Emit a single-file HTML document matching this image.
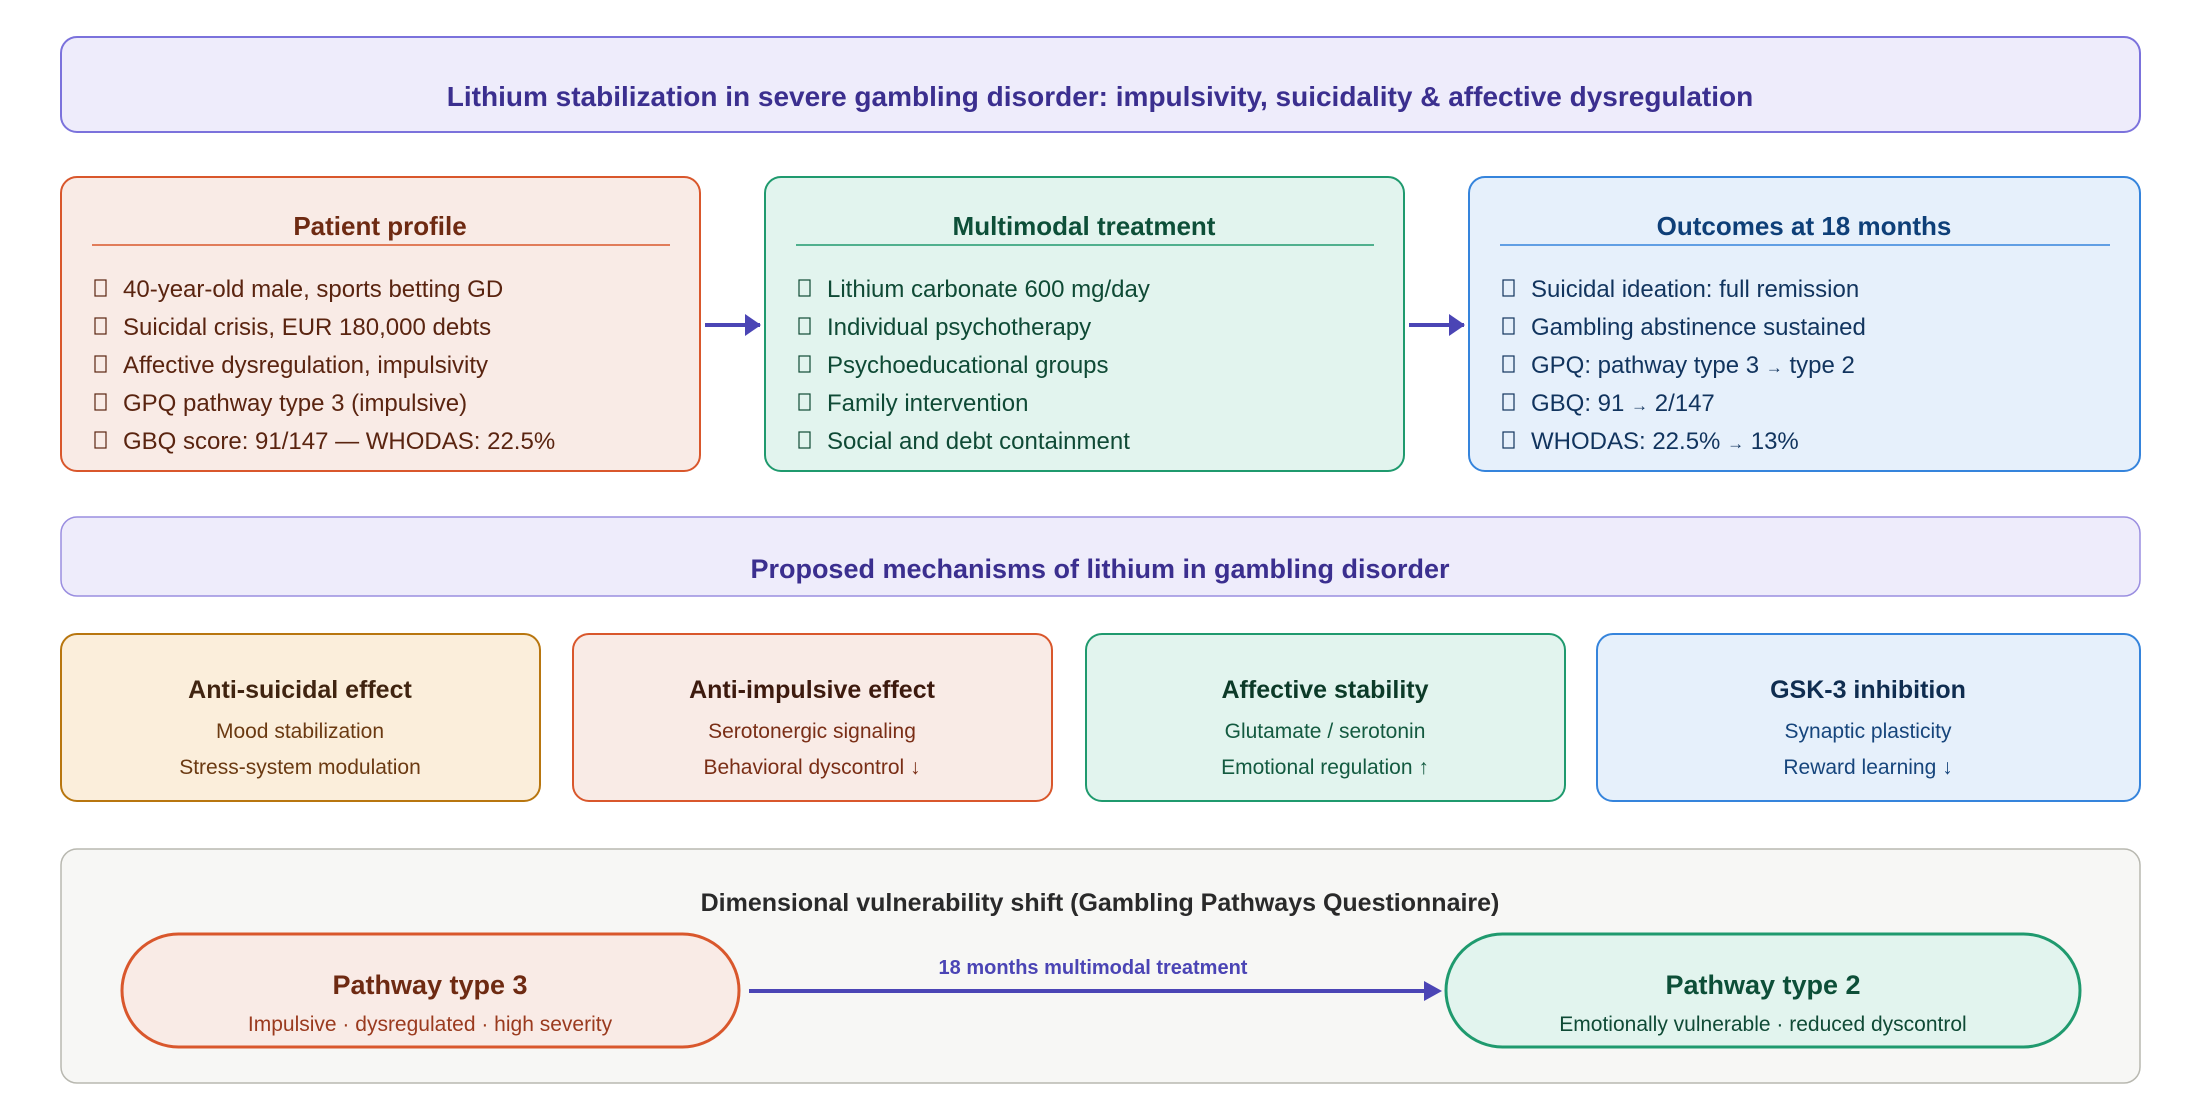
<!DOCTYPE html>
<html><head><meta charset="utf-8"><style>
html,body{margin:0;padding:0;background:#fff}
svg{display:block}
text{font-family:"Liberation Sans",sans-serif}
</style></head><body>
<svg width="2200" height="1120" viewBox="0 0 2200 1120" xmlns="http://www.w3.org/2000/svg">
<defs>
<marker id="ah" viewBox="0 0 10 10" refX="9" refY="5" markerWidth="5" markerHeight="5" orient="auto" markerUnits="userSpaceOnUse" style="overflow:visible"><path d="M0,0 L10,5 L0,10 z" fill="#4b45b5"/></marker>
</defs>
<!-- title -->
<rect x="61" y="37" width="2079" height="95" rx="16" fill="#eeecfb" stroke="#7b72dc" stroke-width="2"/>
<text x="1100" y="106" text-anchor="middle" font-size="28" font-weight="bold" fill="#3b2f8f">Lithium stabilization in severe gambling disorder: impulsivity, suicidality &amp; affective dysregulation</text>

<!-- top boxes -->
<g font-size="24">
<rect x="61" y="177" width="639" height="294" rx="16" fill="#f9ebe6" stroke="#d9572c" stroke-width="2"/>
<text x="380" y="235" text-anchor="middle" font-size="26" font-weight="bold" fill="#6e2a12">Patient profile</text>
<line x1="92" y1="245" x2="670" y2="245" stroke="#d9572c" stroke-width="1.5"/>
<g fill="#5a2410">
<text x="123" y="297">40-year-old male, sports betting GD</text>
<text x="123" y="335">Suicidal crisis, EUR 180,000 debts</text>
<text x="123" y="373">Affective dysregulation, impulsivity</text>
<text x="123" y="411">GPQ pathway type 3 (impulsive)</text>
<text x="123" y="449">GBQ score: 91/147 — WHODAS: 22.5%</text>
</g>
<g fill="none" stroke="#5a2410" stroke-width="1.2">
<rect x="95" y="280" width="11" height="16"/><rect x="95" y="318" width="11" height="16"/><rect x="95" y="356" width="11" height="16"/><rect x="95" y="394" width="11" height="16"/><rect x="95" y="432" width="11" height="16"/>
</g>

<rect x="765" y="177" width="639" height="294" rx="16" fill="#e2f4ee" stroke="#1f9a6e" stroke-width="2"/>
<text x="1084" y="235" text-anchor="middle" font-size="26" font-weight="bold" fill="#0d4f38">Multimodal treatment</text>
<line x1="796" y1="245" x2="1374" y2="245" stroke="#1f9a6e" stroke-width="1.5"/>
<g fill="#0f4a35">
<text x="827" y="297">Lithium carbonate 600 mg/day</text>
<text x="827" y="335">Individual psychotherapy</text>
<text x="827" y="373">Psychoeducational groups</text>
<text x="827" y="411">Family intervention</text>
<text x="827" y="449">Social and debt containment</text>
</g>
<g fill="none" stroke="#0f4a35" stroke-width="1.2">
<rect x="799" y="280" width="11" height="16"/><rect x="799" y="318" width="11" height="16"/><rect x="799" y="356" width="11" height="16"/><rect x="799" y="394" width="11" height="16"/><rect x="799" y="432" width="11" height="16"/>
</g>

<rect x="1469" y="177" width="671" height="294" rx="16" fill="#e6f0fb" stroke="#3584dc" stroke-width="2"/>
<text x="1804" y="235" text-anchor="middle" font-size="26" font-weight="bold" fill="#0e3f78">Outcomes at 18 months</text>
<line x1="1500" y1="245" x2="2110" y2="245" stroke="#3584dc" stroke-width="1.5"/>
<g fill="#11345e">
<text x="1531" y="297">Suicidal ideation: full remission</text>
<text x="1531" y="335">Gambling abstinence sustained</text>
<text x="1531" y="373">GPQ: pathway type 3 <tspan font-size="17">→</tspan> type 2</text>
<text x="1531" y="411">GBQ: 91 <tspan font-size="17">→</tspan> 2/147</text>
<text x="1531" y="449">WHODAS: 22.5% <tspan font-size="17">→</tspan> 13%</text>
</g>
<g fill="none" stroke="#11345e" stroke-width="1.2">
<rect x="1503" y="280" width="11" height="16"/><rect x="1503" y="318" width="11" height="16"/><rect x="1503" y="356" width="11" height="16"/><rect x="1503" y="394" width="11" height="16"/><rect x="1503" y="432" width="11" height="16"/>
</g>
</g>
<line x1="705" y1="325" x2="760" y2="325" stroke="#4b45b5" stroke-width="4" marker-end="url(#ah)"/>
<path d="M745,314 L761,325 L745,336 z" fill="#4b45b5"/>
<line x1="1409" y1="325" x2="1464" y2="325" stroke="#4b45b5" stroke-width="4"/>
<path d="M1449,314 L1465,325 L1449,336 z" fill="#4b45b5"/>

<!-- mechanisms banner -->
<rect x="61" y="517" width="2079" height="79" rx="16" fill="#eeecfb" stroke="#9a8ee0" stroke-width="1.5"/>
<text x="1100" y="578" text-anchor="middle" font-size="27" font-weight="bold" fill="#3b2f8f">Proposed mechanisms of lithium in gambling disorder</text>

<rect x="61" y="634" width="479" height="167" rx="16" fill="#fbeedb" stroke="#b8760f" stroke-width="2"/>
<text x="300" y="698" text-anchor="middle" font-size="25" font-weight="bold" fill="#402410">Anti-suicidal effect</text>
<text x="300" y="738" text-anchor="middle" font-size="21" fill="#6b3a12">Mood stabilization</text>
<text x="300" y="774" text-anchor="middle" font-size="21" fill="#6b3a12">Stress-system modulation</text>

<rect x="573" y="634" width="479" height="167" rx="16" fill="#f9ebe6" stroke="#d9572c" stroke-width="2"/>
<text x="812" y="698" text-anchor="middle" font-size="25" font-weight="bold" fill="#3d1a0e">Anti-impulsive effect</text>
<text x="812" y="738" text-anchor="middle" font-size="21" fill="#7a2e16">Serotonergic signaling</text>
<text x="812" y="774" text-anchor="middle" font-size="21" fill="#7a2e16">Behavioral dyscontrol ↓</text>

<rect x="1086" y="634" width="479" height="167" rx="16" fill="#e2f4ee" stroke="#1f9a6e" stroke-width="2"/>
<text x="1325" y="698" text-anchor="middle" font-size="25" font-weight="bold" fill="#0c3a28">Affective stability</text>
<text x="1325" y="738" text-anchor="middle" font-size="21" fill="#135a40">Glutamate / serotonin</text>
<text x="1325" y="774" text-anchor="middle" font-size="21" fill="#135a40">Emotional regulation ↑</text>

<rect x="1597" y="634" width="543" height="167" rx="16" fill="#e6f0fb" stroke="#3584dc" stroke-width="2"/>
<text x="1868" y="698" text-anchor="middle" font-size="25" font-weight="bold" fill="#0f2d50">GSK-3 inhibition</text>
<text x="1868" y="738" text-anchor="middle" font-size="21" fill="#16457c">Synaptic plasticity</text>
<text x="1868" y="774" text-anchor="middle" font-size="21" fill="#16457c">Reward learning ↓</text>

<!-- bottom -->
<rect x="61" y="849" width="2079" height="234" rx="16" fill="#f7f7f5" stroke="#b8b8b0" stroke-width="1.5"/>
<text x="1100" y="911" text-anchor="middle" font-size="25" font-weight="bold" fill="#2a2a2a">Dimensional vulnerability shift (Gambling Pathways Questionnaire)</text>

<rect x="122" y="934" width="617" height="113" rx="56.5" fill="#f9ebe6" stroke="#d9572c" stroke-width="3"/>
<text x="430" y="994" text-anchor="middle" font-size="27" font-weight="bold" fill="#6e2a12">Pathway type 3</text>
<text x="430" y="1031" text-anchor="middle" font-size="21" fill="#9a3a1e">Impulsive · dysregulated · high severity</text>

<rect x="1446" y="934" width="634" height="113" rx="56.5" fill="#e2f4ee" stroke="#1f9a6e" stroke-width="3"/>
<text x="1763" y="994" text-anchor="middle" font-size="27" font-weight="bold" fill="#0d4f38">Pathway type 2</text>
<text x="1763" y="1031" text-anchor="middle" font-size="21" fill="#0f4a35">Emotionally vulnerable · reduced dyscontrol</text>

<line x1="749" y1="991" x2="1428" y2="991" stroke="#4b45b5" stroke-width="4"/>
<path d="M1424,981 L1442,991 L1424,1001 z" fill="#4b45b5"/>
<text x="1093" y="974" text-anchor="middle" font-size="20" font-weight="bold" fill="#4b45b5">18 months multimodal treatment</text>
</svg>
</body></html>
